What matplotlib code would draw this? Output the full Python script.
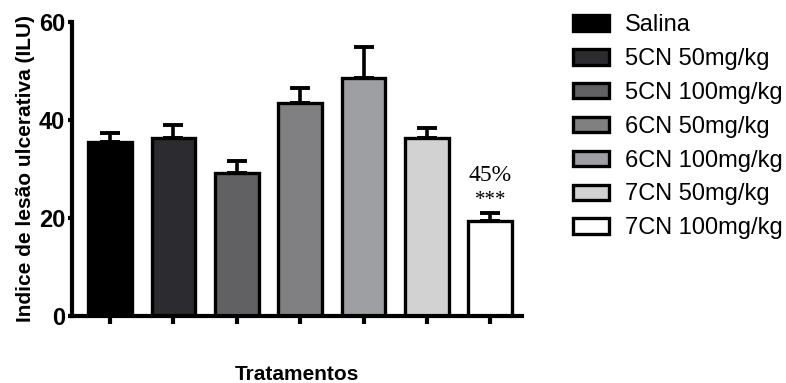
import matplotlib
matplotlib.use("Agg")
import matplotlib.pyplot as plt
from matplotlib.patches import Patch

# ---------- DATA ----------
groups = ["Salina", "5CN 50mg/kg", "5CN 100mg/kg", "6CN 50mg/kg",
          "6CN 100mg/kg", "7CN 50mg/kg", "7CN 100mg/kg"]
means = [35.5, 36.4, 29.2, 43.5, 48.6, 36.3, 19.4]
sem = [1.8, 2.6, 2.5, 3.0, 6.3, 2.1, 1.6]
colors = ["#000000", "#2c2c30", "#616164", "#808083", "#9e9fa3", "#d1d2d1", "#ffffff"]
yticks = [0, 20, 40, 60]

# ---------- FIGURE ----------
fig = plt.figure(figsize=(7.86, 3.83), dpi=100)
ax = fig.add_axes([72 / 786, 1 - 316 / 383, 450 / 786, 294 / 383])

x = list(range(len(groups)))
ax.errorbar(x, means, yerr=[[0] * len(x), sem], fmt="none", ecolor="black",
            elinewidth=2.6, capsize=7.5, capthick=2.8, zorder=1)
ax.bar(x, means, width=0.69, color=colors, edgecolor="black", linewidth=2.4, zorder=2)

# significance label over the last bar
ax.text(x[-1], 28.6, "45%", ha="center", va="center", fontsize=17,
        family="Liberation Serif")
ax.text(x[-1], 23.6, "***", ha="center", va="center", fontsize=15,
        family="Liberation Serif")

ax.set_xlim(-0.6, 6.5)
ax.set_ylim(0, 60)
ax.set_yticks(yticks)
ax.set_xticks(x)
ax.set_xticklabels([])
for lab in ax.get_yticklabels():
    lab.set_fontweight("bold")
    lab.set_fontsize(17)
    lab.set_family("Liberation Sans")
ax.tick_params(axis="x", direction="out", length=6, width=3)
ax.tick_params(axis="y", direction="out", length=3, width=3, pad=2)

for s in ["top", "right"]:
    ax.spines[s].set_visible(False)
for s in ["left", "bottom"]:
    ax.spines[s].set_linewidth(3)

ax.set_ylabel("Indice de lesão ulcerativa (ILU)", fontsize=15, fontweight="bold",
              family=["Liberation Sans Narrow", "Liberation Sans"])
ax.yaxis.set_label_coords(-37 / 450, 0.5)
ax.set_xlabel("Tratamentos", fontsize=15, fontweight="bold", va="center",
              family=["Liberation Sans Narrow", "Liberation Sans"])
ax.xaxis.set_label_coords(0.5, -59 / 294)

handles = [Patch(facecolor=c, edgecolor="black", linewidth=2.4) for c in colors]
fig.legend(handles, groups, loc="upper left", bbox_to_anchor=(564 / 786, 1 - 5 / 383),
           frameon=False, handlelength=1.5, handleheight=0.62,
           handletextpad=0.7, labelspacing=0.5, borderaxespad=0,
           prop={"family": "Liberation Sans", "size": 17})

fig.savefig("out.png", dpi=100)
